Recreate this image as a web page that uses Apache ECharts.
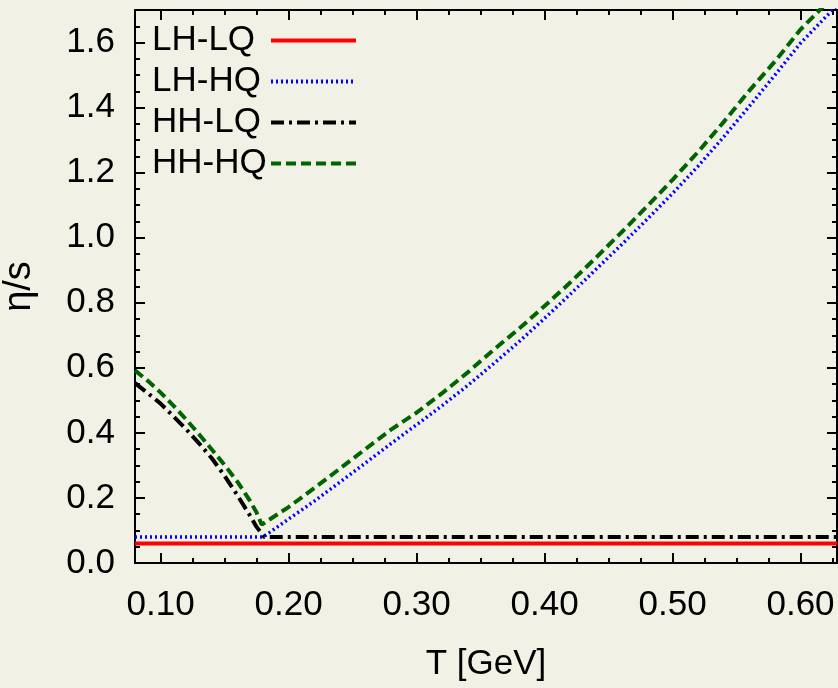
<!DOCTYPE html>
<html>
<head>
<meta charset="utf-8">
<script src="https://cdn.jsdelivr.net/npm/echarts@6/dist/echarts.min.js"></script>
<style>
html,body{margin:0;padding:0;background:#f2f1e6;}
#c{width:838px;height:688px;}
</style>
</head>
<body>
<div id="c"></div>
<script>
// ---- data ----
var seriesNames = ['LH-LQ', 'LH-HQ', 'HH-LQ', 'HH-HQ'];

var tLHLQ = [0.08, 0.6285];
var vLHLQ = [0.06, 0.06];

var tLHHQ = [0.08, 0.18, 0.20, 0.22, 0.24, 0.26, 0.28, 0.30, 0.32, 0.34, 0.36, 0.38, 0.40, 0.42, 0.44, 0.46, 0.48, 0.50, 0.52, 0.54, 0.56, 0.58, 0.60, 0.62, 0.63];
var vLHHQ = [0.0796, 0.0796, 0.135, 0.190, 0.248, 0.307, 0.367, 0.425, 0.484, 0.546, 0.612, 0.680, 0.752, 0.826, 0.902, 0.978, 1.056, 1.136, 1.220, 1.310, 1.404, 1.500, 1.598, 1.680, 1.720];

var tHHLQ = [0.08, 0.09, 0.10, 0.11, 0.12, 0.13, 0.14, 0.15, 0.16, 0.17, 0.175, 0.181, 0.6285];
var vHHLQ = [0.553, 0.522, 0.490, 0.451, 0.411, 0.368, 0.322, 0.268, 0.208, 0.145, 0.111, 0.0796, 0.0796];

var tHHHQ = [0.08, 0.09, 0.10, 0.11, 0.12, 0.13, 0.14, 0.15, 0.16, 0.17, 0.175, 0.179, 0.20, 0.22, 0.24, 0.26, 0.28, 0.30, 0.32, 0.34, 0.36, 0.38, 0.40, 0.42, 0.44, 0.46, 0.48, 0.50, 0.52, 0.54, 0.56, 0.58, 0.60, 0.62, 0.63];
var vHHHQ = [0.592, 0.560, 0.524, 0.484, 0.441, 0.396, 0.349, 0.301, 0.250, 0.190, 0.155, 0.118, 0.172, 0.230, 0.290, 0.350, 0.410, 0.462, 0.522, 0.586, 0.655, 0.720, 0.790, 0.862, 0.938, 1.016, 1.096, 1.178, 1.264, 1.356, 1.452, 1.542, 1.640, 1.720, 1.760];

var xMajorTicks = [0.10, 0.20, 0.30, 0.40, 0.50, 0.60];
var xMinorTicks = [0.125, 0.15, 0.175, 0.225, 0.25, 0.275, 0.325, 0.35, 0.375, 0.425, 0.45, 0.475, 0.525, 0.55, 0.575, 0.625];
var yMajorTicks = [0.0, 0.2, 0.4, 0.6, 0.8, 1.0, 1.2, 1.4, 1.6];
var yMinorTicks = [0.05, 0.1, 0.15, 0.25, 0.3, 0.35, 0.45, 0.5, 0.55, 0.65, 0.7, 0.75, 0.85, 0.9, 0.95, 1.05, 1.1, 1.15, 1.25, 1.3, 1.35, 1.45, 1.5, 1.55, 1.65];

var xMin = 0.08, xMax = 0.6285, yMin = 0, yMax = 1.7;

function zip(t, v) { return t.map(function (x, i) { return [x, v[i]]; }); }

var FONT = '"Liberation Sans", Arial, sans-serif';
var FS = 35;

function xAxisDef(pos, ticks, len, labels) {
  return {
    type: 'value', position: pos, min: xMin, max: xMax,
    axisLine: { show: labels || pos === 'top', onZero: false, lineStyle: { color: '#000', width: 2 } },
    axisTick: { show: true, inside: true, length: len, customValues: ticks, lineStyle: { color: '#000', width: 2 } },
    axisLabel: labels ? {
      show: true, customValues: ticks, margin: 25, color: '#000',
      fontFamily: FONT, fontSize: FS,
      formatter: function (v) { return v.toFixed(2); }
    } : { show: false },
    splitLine: { show: false },
    name: labels ? 'T [GeV]' : '',
    nameLocation: 'middle', nameGap: 84, nameMoveOverlap: false,
    nameTextStyle: { fontFamily: FONT, fontSize: FS, color: '#000' }
  };
}
function yAxisDef(pos, ticks, len, labels) {
  return {
    type: 'value', position: pos, min: yMin, max: yMax,
    axisLine: { show: labels || pos === 'right', onZero: false, lineStyle: { color: '#000', width: 2 } },
    axisTick: { show: true, inside: true, length: len, customValues: ticks, lineStyle: { color: '#000', width: 2 } },
    axisLabel: labels ? {
      show: true, customValues: ticks, margin: 20, color: '#000',
      fontFamily: FONT, fontSize: FS,
      formatter: function (v) { return v.toFixed(1); }
    } : { show: false },
    splitLine: { show: false },
    name: labels ? 'η/s' : '',
    nameLocation: 'middle', nameGap: 96, nameMoveOverlap: false,
    nameTextStyle: { fontFamily: FONT, fontSize: 38, color: '#000' }
  };
}

var chart = echarts.init(document.getElementById('c'), null, { renderer: 'canvas' });
chart.setOption({
  backgroundColor: '#f2f1e6',
  animation: false,
  grid: { left: 135, right: 1, top: 10, bottom: 125, containLabel: false, outerBoundsMode: 'none' },
  xAxis: [
    xAxisDef('bottom', xMajorTicks, 10, true),
    xAxisDef('bottom', xMinorTicks, 5, false),
    xAxisDef('top', xMajorTicks, 10, false),
    xAxisDef('top', xMinorTicks, 5, false)
  ],
  yAxis: [
    yAxisDef('left', yMajorTicks, 10, true),
    yAxisDef('left', yMinorTicks, 5, false),
    yAxisDef('right', yMajorTicks, 10, false),
    yAxisDef('right', yMinorTicks, 5, false)
  ],
  legend: {
    orient: 'vertical', left: 147, top: 15, align: 'right',
    itemWidth: 85, itemHeight: 14, itemGap: 0,
    data: seriesNames,
    itemStyle: { opacity: 0, borderWidth: 0 },
    lineStyle: { width: 4 },
    formatter: function (name) { return '{t|' + name + '}'; },
    textStyle: {
      fontFamily: FONT, fontSize: FS, color: '#000', lineHeight: 41,
      rich: { t: { width: 114, align: 'left', fontFamily: FONT, fontSize: FS, color: '#000', lineHeight: 41 } }
    }
  },
  series: [
    { name: seriesNames[0], type: 'line', symbol: 'none', data: zip(tLHLQ, vLHLQ),
      lineStyle: { color: '#ff0000', width: 4, type: 'solid' }, itemStyle: { color: '#ff0000' } },
    { name: seriesNames[1], type: 'line', symbol: 'none', data: zip(tLHHQ, vLHHQ),
      lineStyle: { color: '#0000ff', width: 3.5, type: [2, 3], cap: 'butt' }, itemStyle: { color: '#0000ff' } },
    { name: seriesNames[2], type: 'line', symbol: 'none', data: zip(tHHLQ, vHHLQ),
      lineStyle: { color: '#000000', width: 4, type: [13, 5, 3, 5], cap: 'butt' }, itemStyle: { color: '#000000' } },
    { name: seriesNames[3], type: 'line', symbol: 'none', data: zip(tHHHQ, vHHHQ),
      lineStyle: { color: '#006400', width: 4, type: [10, 5], cap: 'butt' }, itemStyle: { color: '#006400' } }
  ]
});
</script>
</body>
</html>
